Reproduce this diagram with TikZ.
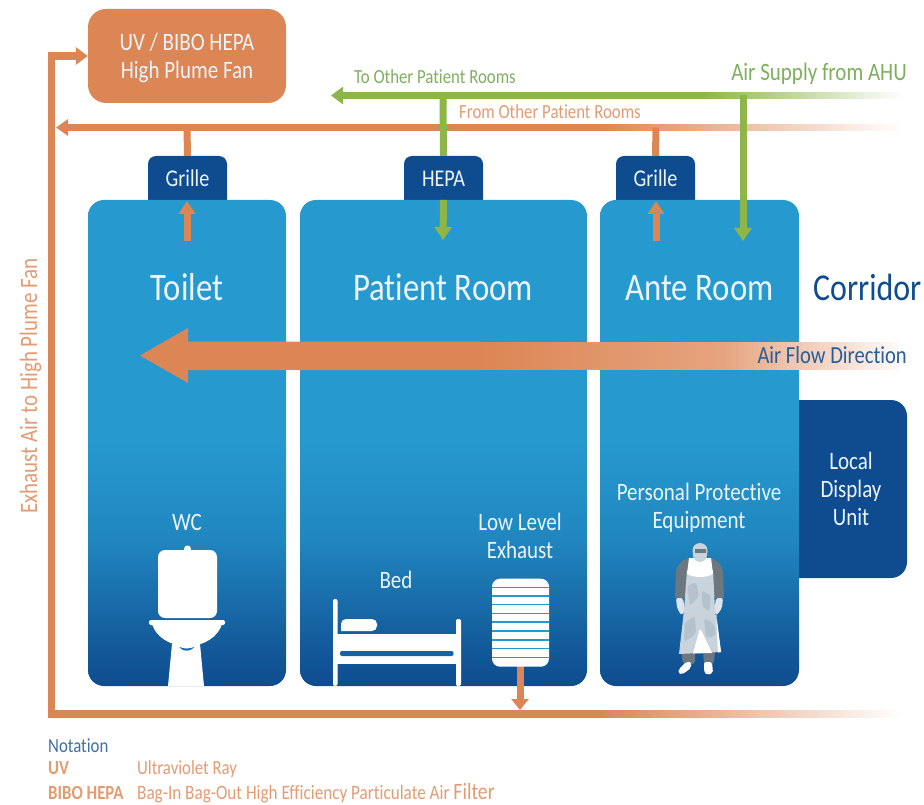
\documentclass[tikz,border=0pt]{standalone}
\usepackage{fontspec}
\setmainfont[FakeStretch=0.84,Ligatures=NoCommon]{Carlito}
\usetikzlibrary{arrows.meta}
\definecolor{orangeA}{HTML}{DD8655}
\definecolor{orangeT}{HTML}{E39B72}
\definecolor{greenA}{HTML}{8DB548}
\definecolor{greenT}{HTML}{7FAE5F}
\definecolor{navyA}{HTML}{0F4C8F}
\definecolor{roomA}{HTML}{2699CF}
\definecolor{roomT}{HTML}{EAF4FA}
\definecolor{figA}{HTML}{DDE3EA}
\definecolor{figB}{HTML}{C8D3DB}
\definecolor{figC}{HTML}{B4C2CD}
\definecolor{figD}{HTML}{6C7780}
\pgfdeclareverticalshading{roomgrad}{100bp}{color(0bp)=(navyA);color(25bp)=(navyA);color(30bp)=(navyA!78!roomA);color(40bp)=(navyA!25!roomA);color(50bp)=(roomA);color(100bp)=(roomA)}
\newcommand{\szf}[1]{\fontsize{#1}{#1}\selectfont}
% fade bar: x-start, x-end, y-centre, half-height, colour, pct-start, pct-end
\newcommand{\fadebar}[7]{%
  \foreach \ii in {0,...,59}{%
    \pgfmathsetmacro{\xa}{#1+(#2-#1)/60*\ii}%
    \pgfmathsetmacro{\xb}{#1+(#2-#1)/60*(\ii+1.3)}%
    \pgfmathsetmacro{\pp}{#6+(#7-#6)/59*\ii}%
    \fill[#5!\pp!white] (\xa,#3-#4) rectangle (\xb,#3+#4);
  }}
\tikzset{
  x=1pt,y=-1pt,
  room/.style={rounded corners=16pt,shading=roomgrad,inner sep=0,minimum height=486pt},
  boxA/.style={rounded corners=18pt,fill=orangeA,inner sep=0,minimum width=198pt,minimum height=94pt},
  ventbox/.style={rounded corners=8pt,fill=navyA,inner sep=0,minimum width=79pt,minimum height=60pt},
  lab/.style={inner sep=0,anchor=base,text=roomT,align=center},
  olink/.style={draw=orangeA,line width=7pt},
  glink/.style={draw=greenA,line width=7pt},
  smallO/.style={olink,-{Triangle[width=16pt,length=13pt]}},
  smallG/.style={glink,-{Triangle[width=17pt,length=13pt]}},
  fig/.style={fill=white,draw=none},
  legend/.style={inner sep=0,anchor=base west,text=orangeT,font=\szf{20}},
}
\begin{document}
\begin{tikzpicture}
\useasboundingbox (0,0) rectangle (924,805);
% named points
\coordinate (gF) at (700,95.5);
\coordinate (gL) at (331,95.5);
\coordinate (gH) at (443,95.5);
\coordinate (gA) at (743,95.5);
\coordinate (oF) at (600,127.5);
\coordinate (oL) at (56,127.5);
\coordinate (oT) at (187,127.5);
\coordinate (oN) at (656,127.5);
\coordinate (bF) at (600,714);
\coordinate (bC) at (51.5,714);
\coordinate (bX) at (520,710);
\coordinate (tU) at (51.5,56);
\coordinate (tA) at (187,201);
\coordinate (tB) at (187,241);
\coordinate (aA) at (656,201);
\coordinate (aB) at (656,241);
\coordinate (hT) at (443,240);
\coordinate (vT) at (743,241);
\coordinate (fA) at (140,355.5);
\coordinate (fB) at (188,328);
\coordinate (fC) at (188,341.5);
\coordinate (fD) at (188,370);
\coordinate (fE) at (188,383);
\coordinate (fS) at (480,341.5);
\coordinate (fT) at (480,370);

% fan
\node[boxA] (uv) at (187,56) {};
\node[ventbox] (g1) at (187.5,186) {};
\node[ventbox] (g2) at (443.5,186) {};
\node[ventbox] (g3) at (655.5,186) {};

% exhaust and supply mains
\fadebar{600}{905}{127.5}{3.5}{orangeA}{100}{0}
\draw[olink,-{Triangle[width=16pt,length=12pt]}] (oF) -- (oL);
\fadebar{700}{905}{95.5}{3.5}{greenA}{100}{0}
\draw[glink,-{Triangle[width=17pt,length=12pt]}] (gF) -- (gL);
\draw[olink] (oT) -- (g1.north);
\draw[olink] (oN) -- (g3.north);
\draw[glink] (gH) -- (g2.north);

% bottom main and riser
\fadebar{600}{905}{714}{3.8}{orangeA}{100}{0}
\draw[draw=orangeA,line width=7.6pt,miter limit=10,-{Triangle[width=17pt,length=12pt]}] (bF) -- (bC) -- (tU) -- (uv.west);

% display unit and rooms
\node[fill=navyA,rounded corners=16pt,inner sep=0,minimum width=140pt,minimum height=178pt] (ldu) at (837,489) {};
\node[room,minimum width=198pt] (toilet) at (187,443) {};
\node[room,minimum width=287pt] (patient) at (443.5,443) {};
\node[room,minimum width=199pt] (ante) at (699.5,443) {};

% arrows into the rooms
\draw[smallO] (tB) -- (tA);
\draw[smallO] (aB) -- (aA);
\draw[smallG] (patient.north) -- (hT);
\draw[smallG] (gA) -- (vT);

% air-flow arrow
\fadebar{480}{720}{355.75}{14.25}{orangeA}{100}{76}
\fadebar{720}{898}{355.75}{14.25}{orangeA}{76}{5}
\fill[orangeA] (fA) -- (fB) -- (fC) -- (fS) -- (fT) -- (fD) -- (fE) -- cycle;

% toilet
\fill[fig,rounded corners=7pt] (158,550) rectangle (217,618);
\fill[fig] (187.5,549) circle (3.5pt);
\fill[fig,rounded corners=2pt] (149,620) rectangle (225,625);
\fill[fig] (152,624) .. controls (156,637) and (170,646) .. (187,646) .. controls (204,646) and (218,637) .. (222,624) -- cycle;
\fill[fig] (172,644) -- (200,644) -- (204,686) -- (168,686) -- cycle;
\fill[navyA!55!roomA] (179.5,647) .. controls (184,649) and (189,649) .. (194.5,647) .. controls (191,651) and (184,653) .. (179.5,647) -- cycle;

% bed
\fill[fig,rounded corners=2pt] (333,599) rectangle (337.5,686);
\fill[fig,rounded corners=2pt] (456,619) rectangle (461,686);
\fill[fig] (337,633.5) rectangle (457,664);
\fill[navyA!70!roomA,rounded corners=2pt] (340,651) rectangle (453.5,656);
\fill[fig,rounded corners=5pt] (341,631) -- (341,619) -- (377,619) -- (377,631) [sharp corners] -- cycle;

% low-level exhaust filter
\draw[olink,line width=7pt,-{Triangle[width=17pt,length=11pt]}] (520,665) -- (bX);
\node[fill=white,rounded corners=8pt,inner sep=0,minimum width=57pt,minimum height=88pt] (filter) at (520.5,622.7) {};
\foreach \yy in {587.3,596,604.7,613.3,622,631,640,648.7,657.3}
  \draw[roomA,line width=1.2pt] (492,\yy) -- (549,\yy);

% protective equipment figure
\fill[figD,rounded corners=3pt] (681,650) -- (695,650) -- (695,664) -- (683,664) -- cycle;
\fill[figD,rounded corners=3pt] (703,650) -- (715,650) -- (714,664) -- (704,664) -- cycle;
\fill[fig,rounded corners=2pt] (686,662) -- (691,662) -- (691,668) -- (682,674.5) -- (678,673) -- (679,669) -- cycle;
\fill[fig,rounded corners=2pt] (704,662) -- (712,662) -- (713,673) -- (707,675) -- (704,672) -- cycle;
\fill[figD] (689,558) .. controls (681,560) and (677,565) .. (676,572) -- (675,598) -- (683,600) -- (688,590) -- (712,590) -- (716,600) -- (724,598) -- (723,572) .. controls (722,565) and (718,561) .. (711,558) -- cycle;
\fill[figA,rounded corners=2pt] (676,598) -- (683,598) -- (685,612) -- (681,615) -- (677,608) -- cycle;
\fill[figA,rounded corners=2pt] (716,598) -- (723,598) -- (722,608) -- (717,615) -- (714,612) -- cycle;
\fill[figB] (687,570) -- (713,570) -- (715,610) -- (721,652) -- (679,654) -- (684,610) -- cycle;
\fill[figC,rounded corners=3pt] (687,586) -- (696,582) -- (699,596) -- (690,606) -- cycle;
\fill[figC,rounded corners=3pt] (702,590) -- (711,596) -- (709,612) -- (702,606) -- cycle;
\fill[figC,rounded corners=3pt] (685,622) -- (695,616) -- (696,634) -- (684,642) -- cycle;
\fill[figC,rounded corners=3pt] (704,618) -- (714,624) -- (716,636) -- (706,638) -- cycle;
\fill[fig] (699.5,630) -- (701,630) -- (712,653) -- (693,653.5) -- cycle;
\fill[fig] (716,612) -- (721,652) -- (718,652.5) -- cycle;
\fill[fig] (689,558) -- (711,558) -- (713,574) .. controls (706,578) and (694,578) .. (687,574) -- cycle;
\fill[figB,rounded corners=3pt] (693,558) -- (692.5,547) -- (697,543) -- (703,543) -- (707.5,547) -- (707,558) -- (703,562) -- (697,562) -- cycle;
\fill[figD] (694.5,549) rectangle (706,552.5);

% labels
\node[lab,font=\szf{25}] (uvt) at (187,51) {UV / BIBO HEPA};
\node[lab,font=\szf{25}] (uvb) at (187,79) {High Plume Fan};
\node[lab,font=\szf{24}] (g1t) at (187.5,186.5) {Grille};
\node[lab,font=\szf{24}] (g2t) at (443.5,186.5) {HEPA};
\node[lab,font=\szf{24}] (g3t) at (655.5,186.5) {Grille};
\node[lab,font=\szf{39}] (tt) at (187,300) {Toilet};
\node[lab,font=\szf{39}] (pt) at (443,300) {Patient Room};
\node[lab,font=\szf{39}] (at) at (699.5,300) {Ante Room};
\node[lab,font=\szf{38},text=navyA,anchor=base west] (ct) at (813,300) {Corridor};
\node[lab,font=\szf{24.5},text=navyA!90!white,anchor=base east] (aft) at (907,363) {Air Flow Direction};
\node[lab,font=\szf{25}] (wc) at (187,530) {WC};
\node[lab,font=\szf{25}] (bed) at (396,588) {Bed};
\node[lab,font=\szf{25}] (ll) at (520,530) {Low Level};
\node[lab,font=\szf{25}] (ex) at (520,558) {Exhaust};
\node[lab,font=\szf{25}] (pp) at (699,500) {Personal Protective};
\node[lab,font=\szf{25}] (eq) at (699,528) {Equipment};
\node[lab,font=\szf{25}] (l1) at (851,469) {Local};
\node[lab,font=\szf{25}] (l2) at (851,497) {Display};
\node[lab,font=\szf{25}] (l3) at (851,525) {Unit};
\node[lab,font=\szf{20},text=greenT,anchor=base west] (tor) at (354,84) {To Other Patient Rooms};
\node[lab,font=\szf{20},text=orangeT,anchor=base west] (fop) at (459,119) {From Other Patient Rooms};
\node[lab,font=\szf{25},text=greenT,anchor=base east] (asa) at (907,81) {Air Supply from AHU};
\node[lab,font=\szf{25},text=orangeT,rotate=90] (exh) at (37,386) {Exhaust Air to High Plume Fan};
\node[legend,text=navyA!80!white] (nt) at (48,752) {Notation};
\node[legend,font=\szf{20}\bfseries] (uk) at (48,774) {UV};
\node[legend] (uv2) at (137,774) {Ultraviolet Ray};
\node[legend,font=\szf{20}\bfseries] (bk) at (48,799) {BIBO HEPA};
\node[legend,font=\szf{20.4}] (bv) at (137,799) {Bag-In Bag-Out High Efficiency Particulate Air {\szf{23.5}Filter}};
\end{tikzpicture}
\end{document}
